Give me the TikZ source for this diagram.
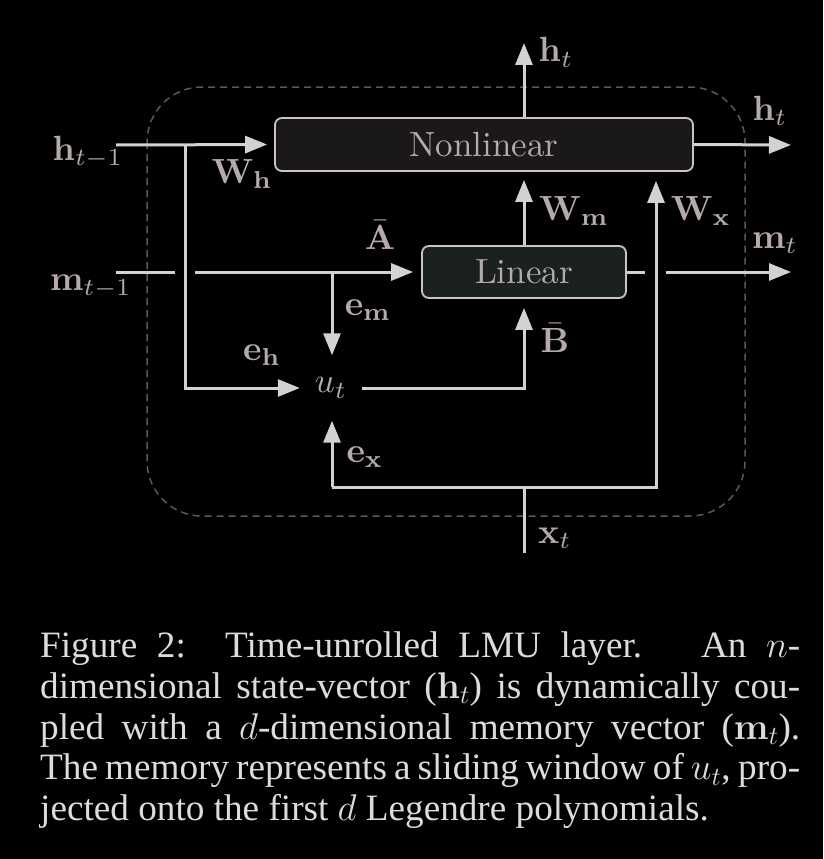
\RequirePackage{fix-cm}
\documentclass[tikz,border=0pt]{standalone}
\usepackage[no-math]{fontspec}
\usepackage{amsmath}
\usepackage{graphicx}
\usetikzlibrary{arrows.meta}
\newfontfamily\capfamily{Liberation Serif}
\newcommand\dtext[1]{\scalebox{3.5}{\fontsize{10}{12}\selectfont #1}}
\newcommand\capfont{\capfamily\fontsize{37.2}{40.85}\selectfont}
\definecolor{linec}{HTML}{D2D2D2}
\definecolor{boxline}{HTML}{CBC3C3}
\definecolor{labc}{HTML}{B5A9A9}
\definecolor{capc}{HTML}{DCDCDC}
\definecolor{nlfill}{HTML}{1B1819}
\definecolor{linfill}{HTML}{1B2021}
\definecolor{dashc}{HTML}{5A5A5A}
\begin{document}
\begin{tikzpicture}[x=1pt,y=-1pt,
  line/.style={draw=linec, line width=3pt},
  arr/.style={line, -{Triangle[length=22pt,width=17pt]}},
  box/.style={draw=boxline, line width=1.8pt, rounded corners=7pt, text=labc, inner sep=0pt},
  lbl/.style={text=labc, anchor=base, inner sep=0pt},
  capl/.style={text=capc, font=\capfont, anchor=base west, inner sep=0pt}]
\fill[black] (0,0) rectangle (823,859);
\useasboundingbox (0,0) rectangle (823,859);
% dashed frame
\draw[dashc, line width=1.5pt, dash pattern=on 7pt off 5pt, rounded corners=55pt] (147,87) rectangle (745,516);
% boxes
\node[box, fill=nlfill, minimum width=418pt, minimum height=53pt] (nl) at (484,144.5) {\dtext{Nonlinear}};
\node[box, fill=linfill, minimum width=204pt, minimum height=52pt] (lin) at (524,272) {\dtext{Linear}};
\node[text=labc, inner sep=0pt, minimum width=62pt, minimum height=65pt] (ut) at (331,388) {\dtext{$u_t$}};
% coordinates
\coordinate (hin) at (116,145);
\coordinate (hb) at (185,145);
\coordinate (min) at (116,272);
\coordinate (mg1) at (175,272);
\coordinate (mg2) at (195,272);
\coordinate (em) at (332,272);
\coordinate (xl) at (332,487);
\coordinate (xj) at (524,487);
\coordinate (xr) at (656,487);
\coordinate (xin) at (524,553);
\coordinate (hup) at (524,43);
\coordinate (hout) at (791,145);
\coordinate (mg3) at (645,272);
\coordinate (mg4) at (666,272);
\coordinate (mout) at (791,272);
% connectors
\draw[arr, shorten >=7pt] (hin) -- (nl.west);
\draw[arr] (hb) |- (ut.west);
\draw[line] (min) -- (mg1);
\draw[arr, shorten >=8pt] (mg2) -- (lin.west);
\draw[arr] (em) -- (ut.north -| em);
\draw[arr, shorten >=9pt] (ut.east) -| (lin.south);
\draw[arr] (xl) -- (ut.south -| xl);
\draw[arr, shorten >=9pt] (xl) -- (xr) -- (xr |- nl.south);
\draw[line] (xin) -- (xj);
\draw[arr, shorten >=8pt] (lin.north) -- (nl.south -| lin.north);
\draw[arr] (nl.north -| hup) -- (hup);
\draw[arr] (nl.east) -- (hout);
\draw[line] (lin.east) -- (mg3);
\draw[arr] (mg4) -- (mout);
% labels
\node[lbl] (lhin) at (88,160) {\dtext{$\mathbf{h}_{t-1}$}};
\node[lbl] (lmin) at (91,290) {\dtext{$\mathbf{m}_{t-1}$}};
\node[lbl] (lwh) at (242,183) {\dtext{$\mathbf{W}_{\mathbf{h}}$}};
\node[lbl] (la) at (380,249) {\dtext{$\bar{\mathbf{A}}$}};
\node[lbl] (lem) at (368,315) {\dtext{$\mathbf{e}_{\mathbf{m}}$}};
\node[lbl] (leh) at (262,360) {\dtext{$\mathbf{e}_{\mathbf{h}}$}};
\node[lbl] (lb) at (555,352) {\dtext{$\bar{\mathbf{B}}$}};
\node[lbl] (lex) at (365,462) {\dtext{$\mathbf{e}_{\mathbf{x}}$}};
\node[lbl] (lxt) at (555,543) {\dtext{$\mathbf{x}_t$}};
\node[lbl] (lht) at (556,62) {\dtext{$\mathbf{h}_t$}};
\node[lbl] (lhout) at (770,120) {\dtext{$\mathbf{h}_t$}};
\node[lbl] (lwm) at (574,220) {\dtext{$\mathbf{W}_{\mathbf{m}}$}};
\node[lbl] (lwx) at (701,220) {\dtext{$\mathbf{W}_{\mathbf{x}}$}};
\node[lbl] (lmt) at (775,248) {\dtext{$\mathbf{m}_t$}};
% caption
\node[capl] (c1) at (40,657.3) {\makebox[760pt][s]{Figure 2:\ \ Time-unrolled LMU layer.\ \ \ An $n$-}};
\node[capl] (c2) at (40,698.1) {\makebox[760pt][s]{dimensional state-vector ($\mathbf{h}_t$) is dynamically cou-}};
\node[capl] (c3) at (40,739) {\makebox[760pt][s]{pled with a $d$-dimensional memory vector ($\mathbf{m}_t$).}};
\node[capl] (c4) at (40,779.8) {\makebox[760pt][s]{The memory represents a sliding window of $u_t$, pro-}};
\node[capl] (c5) at (40,820.7) {jected onto the first $d$ Legendre polynomials.};
\end{tikzpicture}
\end{document}
